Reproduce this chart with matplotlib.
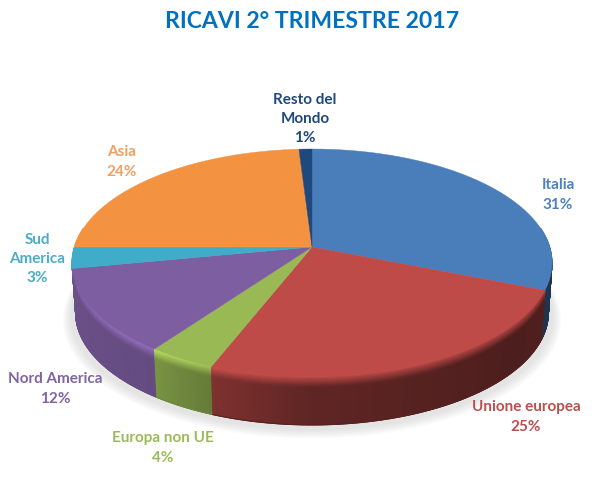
"""Ricavi 2 trimestre 2017: perspective 3D pie drawn from the shares."""

import matplotlib
matplotlib.use("Agg")
import matplotlib.pyplot as plt
import numpy as np
from matplotlib.colors import to_rgb

plt.rcParams["font.family"] = ["Lato", "DejaVu Sans"]

# ── Data ─────────────────────────────────────────────────────────────────────
labels = ["Italia", "Unione europea", "Europa non UE", "Nord America",
          "Sud\nAmerica", "Asia", "Resto del\nMondo"]
shares = [31, 25, 4, 12, 3, 24, 1]
colors = ["#4a7ebb", "#be4b48", "#98b954", "#7d5ea0",
          "#3fadc9", "#f39240", "#1f497d"]
text_colors = ["#4f81bd", "#b9504e", "#9bbb59", "#8064a2",
               "#4bacc6", "#f0a060", "#1f497d"]
title = "RICAVI 2° TRIMESTRE 2017"

# ── Layout (pixels) ──────────────────────────────────────────────────────────
CX, CY = 312, 247
RX, RY = 237.6, 111.7
PERSP = 0.14
DEPTH = 50
BOTTOM_SCALE = 0.985
label_xy = [(558, 195), (526, 417), (163, 448), (55, 389),
            (37, 259), (122, 162), (305, 119)]

# wall shading against angle (degrees clockwise from the top)
SHADE_A = [70, 112, 130, 180, 201, 216, 260, 290]
SHADE_V = [0.42, 0.42, 0.40, 0.50, 0.66, 0.80, 0.86, 0.90]
GLOW_V = [0.90, 0.92, 0.95, 1.00, 1.08, 1.22, 1.10, 1.00]


def project(deg, scale=1.0, drop=0.0):
    th = np.radians(deg)
    u, v = np.sin(th), -np.cos(th)
    w = 1 - PERSP * v
    return CX + scale * RX * u / w, CY + drop + scale * RY * v / w


fig, ax = plt.subplots(figsize=(6.05, 4.80), dpi=100)
fig.subplots_adjust(0, 0, 1, 1)
ax.set_xlim(0, 605)
ax.set_ylim(480, 0)
ax.axis("off")

# ── Soft shadow ──────────────────────────────────────────────────────────────
ring = np.linspace(0, 360, 361)
for grow in np.arange(9, 0, -1.5):
    sx, sy = project(ring, 1.0 + grow / 240, DEPTH + 2 + grow * 0.5)
    ax.fill(sx, sy, color="#808080", alpha=0.035, lw=0, zorder=1)

# ── Side walls and top faces ─────────────────────────────────────────────────
edges = np.cumsum([0] + shares) * 3.6
profile = np.linspace(0, 1, 25)

for i, color in enumerate(colors):
    start, end = edges[i], edges[i + 1]
    base = np.array(to_rgb(color))

    vis_start, vis_end = max(start, 80), min(end, 280)
    if vis_end > vis_start:
        n = max(int(vis_end - vis_start) * 2, 2)
        ang = np.linspace(vis_start, vis_end, n + 1)
        X = np.empty((len(profile), len(ang)))
        Y = np.empty_like(X)
        for r, t in enumerate(profile):
            X[r], Y[r] = project(ang, 1 - (1 - BOTTOM_SCALE) * t, DEPTH * t)
        shade = np.interp(ang, SHADE_A, SHADE_V)
        glow = np.interp(ang, SHADE_A, GLOW_V)
        mix = np.clip(profile / 0.22, 0, 1)[:, None]
        factor = glow * (1 - mix) + shade * mix
        rgb = np.clip(factor[..., None] * base, 0, 1)
        # nearer walls go on top so a wall never shows through its neighbour
        front = -np.cos(np.radians((vis_start + vis_end) / 2))
        ax.pcolormesh(X, Y, rgb, shading="gouraud", zorder=2 + 0.1 * front)
        # smooth the lower edge of the wall
        ax.plot(X[-1], Y[-1], color=tuple(rgb[-1, len(ang) // 2]), lw=0.8,
                zorder=2 + 0.1 * front)

    ang = np.linspace(start, end, max(int(end - start) * 2, 2) + 1)
    rx, ry = project(ang)
    ax.fill(np.r_[CX, rx], np.r_[CY, ry], color=color, lw=0.3, zorder=3)

# ── Text ─────────────────────────────────────────────────────────────────────
for name, val, tc, (x, y) in zip(labels, shares, text_colors, label_xy):
    ax.text(x, y, f"{name}\n{val}%", color=tc, fontsize=11, fontweight="bold",
            ha="center", va="center", linespacing=1.48, zorder=5)

ax.text(312, 22, title, color="#0070c0", fontsize=16.6, fontweight="bold",
        ha="center", va="center", zorder=5)

fig.savefig("out.png", dpi=100)
